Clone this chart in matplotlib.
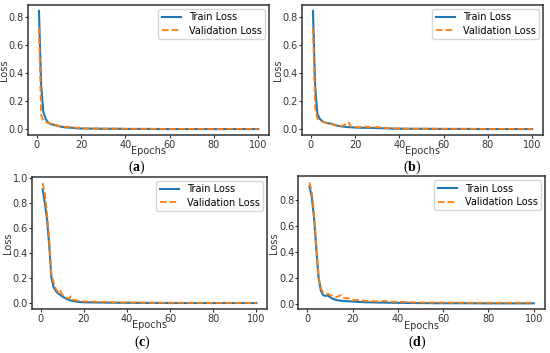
import matplotlib

matplotlib.use("Agg")
import matplotlib.pyplot as plt

epochs = [1, 2, 3, 4, 5, 6, 7, 8, 9, 10, 11, 12, 13, 14, 15, 16, 17, 18, 19, 20,
          22, 24, 26, 28, 30, 32, 34, 36, 38, 40, 45, 50, 60, 70, 80, 90, 100]

train_a = [0.84, 0.31, 0.12, 0.075, 0.05, 0.038, 0.034, 0.03, 0.026, 0.022,
           0.018, 0.015, 0.013, 0.012, 0.011, 0.01, 0.008, 0.007, 0.006, 0.005,
           0.005, 0.004, 0.004, 0.004, 0.003, 0.003, 0.003, 0.003, 0.003, 0.002,
           0.002, 0.002, 0.001, 0.001, 0.001, 0.001, 0.001]
val_a = [0.72, 0.10, 0.06, 0.052, 0.045, 0.042, 0.038, 0.033, 0.028, 0.024,
         0.02, 0.018, 0.017, 0.018, 0.016, 0.014, 0.012, 0.011, 0.01, 0.007,
         0.006, 0.006, 0.005, 0.005, 0.005, 0.004, 0.005, 0.004, 0.004, 0.003,
         0.003, 0.003, 0.002, 0.002, 0.002, 0.002, 0.002]

train_b = [0.84, 0.30, 0.11, 0.075, 0.06, 0.05, 0.045, 0.042, 0.04, 0.035,
           0.03, 0.025, 0.022, 0.02, 0.018, 0.016, 0.015, 0.014, 0.013, 0.012,
           0.011, 0.01, 0.01, 0.009, 0.008, 0.007, 0.006, 0.005, 0.004, 0.004,
           0.003, 0.003, 0.002, 0.002, 0.001, 0.001, 0.001]
val_b = [0.72, 0.15, 0.075, 0.065, 0.055, 0.05, 0.045, 0.04, 0.038, 0.032,
         0.028, 0.025, 0.022, 0.025, 0.028, 0.04, 0.05, 0.022, 0.018, 0.016,
         0.014, 0.02, 0.016, 0.012, 0.016, 0.01, 0.008, 0.007, 0.006, 0.005,
         0.004, 0.004, 0.003, 0.003, 0.002, 0.002, 0.002]

train_c = [0.91, 0.80, 0.67, 0.47, 0.21, 0.13, 0.10, 0.08, 0.07, 0.055,
           0.045, 0.035, 0.028, 0.022, 0.018, 0.015, 0.012, 0.01, 0.009, 0.008,
           0.007, 0.007, 0.006, 0.006, 0.005, 0.005, 0.005, 0.004, 0.004, 0.004,
           0.003, 0.003, 0.002, 0.002, 0.002, 0.002, 0.002]
val_c = [0.96, 0.88, 0.72, 0.52, 0.24, 0.17, 0.12, 0.09, 0.11, 0.07,
         0.055, 0.045, 0.035, 0.055, 0.03, 0.025, 0.02, 0.018, 0.016, 0.015,
         0.014, 0.013, 0.012, 0.011, 0.012, 0.009, 0.008, 0.008, 0.007, 0.007,
         0.006, 0.005, 0.004, 0.004, 0.003, 0.003, 0.003]

train_d = [0.905, 0.82, 0.66, 0.42, 0.2, 0.1, 0.065, 0.06, 0.062, 0.05,
           0.04, 0.033, 0.027, 0.024, 0.022, 0.02, 0.019, 0.018, 0.017, 0.016,
           0.014, 0.012, 0.01, 0.01, 0.009, 0.008, 0.008, 0.007, 0.006, 0.006,
           0.005, 0.004, 0.003, 0.003, 0.002, 0.002, 0.002]
val_d = [0.935, 0.86, 0.70, 0.45, 0.21, 0.12, 0.085, 0.08, 0.075, 0.07,
         0.06, 0.055, 0.05, 0.06, 0.065, 0.045, 0.04, 0.042, 0.035, 0.03,
         0.028, 0.025, 0.022, 0.02, 0.018, 0.016, 0.022, 0.015, 0.014, 0.015,
         0.011, 0.009, 0.008, 0.007, 0.007, 0.007, 0.007]

panels = [
    ("a", train_a, val_a, [0.0509, 0.6176, 0.4385, 0.3683], (0.249, 0.527)),
    ("b", train_b, val_b, [0.5491, 0.6176, 0.4382, 0.3683], (0.750, 0.527)),
    ("c", train_c, val_c, [0.0582, 0.1246, 0.4273, 0.3740], (0.258, 0.029)),
    ("d", train_d, val_d, [0.5424, 0.1235, 0.4485, 0.3768], (0.758, 0.029)),
]

plt.rcParams["mathtext.fontset"] = "custom"
plt.rcParams["mathtext.rm"] = "Liberation Serif"
plt.rcParams["mathtext.bf"] = "Liberation Serif:bold"

fig = plt.figure(figsize=(5.5, 3.53), dpi=100)

for letter, train, val, rect, cap in panels:
    ax = fig.add_axes(rect)
    ax.plot(epochs, train, color="#1f77b4", lw=1.5, label="Train Loss")
    ax.plot(epochs, val, color="#ff7f0e", lw=1.3, ls="--", label="Validation Loss")
    ax.set_xticks([0, 20, 40, 60, 80, 100])
    ax.tick_params(labelsize=7, colors="#333333", length=2.5, width=0.8, pad=0.8)
    ax.tick_params(axis="y", pad=0.3)
    for spine in ax.spines.values():
        spine.set_linewidth(1.1)
        spine.set_color("#333333")
    ax.set_xlabel("Epochs", fontsize=7, color="#333333", labelpad=-2.5)
    ax.set_ylabel("Loss", fontsize=7, color="#333333", labelpad=0)
    ax.legend(loc="upper right", fontsize=7, handlelength=2.0,
              borderaxespad=0.4, labelspacing=0.35, borderpad=0.35)
    fig.text(cap[0], cap[1], r"$(\mathbf{%s})$" % letter, fontsize=10,
             ha="center", va="center")

fig.savefig("out.png", dpi=100)
